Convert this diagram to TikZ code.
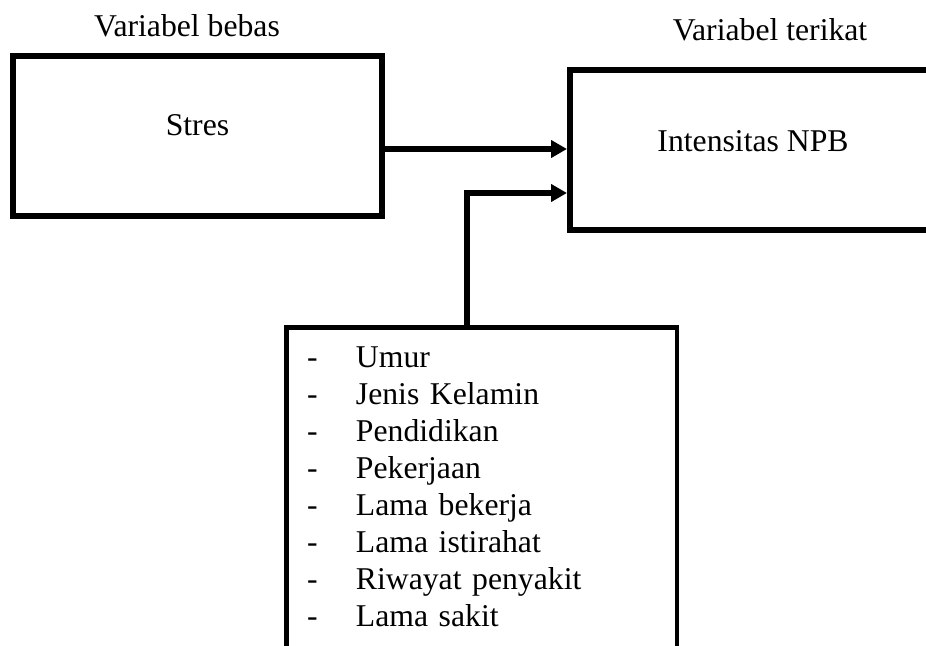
\documentclass[tikz,border=0pt]{standalone}
\usepackage{fontspec}
\setmainfont{Liberation Serif}
\usetikzlibrary{arrows.meta}
\begin{document}
\begin{tikzpicture}[x=1pt,y=-1pt,
  txt/.style={font=\fontsize{31.7}{37}\selectfont},
  box/.style={draw,rectangle,inner sep=0pt,txt},
  arr/.style={line width=6pt,-{Triangle[length=16pt,width=17pt]},line join=miter}]
\useasboundingbox (0,0) rectangle (926,645);
\node[txt,anchor=base] (lb) at (187,36) {Variabel bebas};
\node[txt,anchor=base] (lt) at (770,40) {Variabel terikat};
\node[box,line width=6pt,minimum width=369pt,minimum height=160pt,text height=22pt,text depth=24pt] (stres) at (197.5,136) {Stres};
\node[box,line width=6pt,minimum width=366pt,minimum height=160pt,text height=22pt,text depth=20pt] (npb) at (753,150) {Intensitas NPB};
\node[box,line width=4.5pt,anchor=north,text width=349.5pt,align=left,inner xsep=20.5pt,inner ysep=19pt] (list) at (481.75,325)
 {\makebox[49pt][l]{-}Umur\\
  \makebox[49pt][l]{-}Jenis Kelamin\\
  \makebox[49pt][l]{-}Pendidikan\\
  \makebox[49pt][l]{-}Pekerjaan\\
  \makebox[49pt][l]{-}Lama bekerja\\
  \makebox[49pt][l]{-}Lama istirahat\\
  \makebox[49pt][l]{-}Riwayat penyakit\\
  \makebox[49pt][l]{-}Lama sakit\rule[-60pt]{0pt}{60pt}};
\coordinate (y1) at (0,149);
\coordinate (y2) at (0,193);
\coordinate (xv) at (467,0);
\draw[arr] (stres.east |- y1) -- (npb.west |- y1);
\draw[arr] (xv |- list.north) |- (npb.west |- y2);
\end{tikzpicture}
\end{document}
